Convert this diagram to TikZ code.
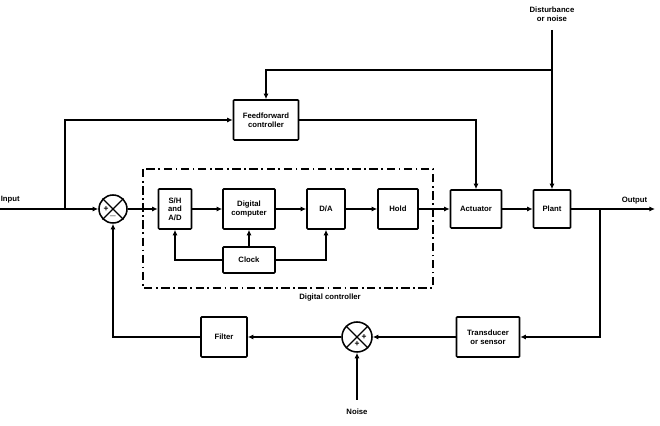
\documentclass[tikz,border=0pt]{standalone}
\usepackage{fontspec}
\setmainfont{Liberation Sans}
\usepackage{tikz}
\usetikzlibrary{arrows.meta, positioning, calc}

\begin{document}
\begin{tikzpicture}[
  x=0.25mm, y=-0.25mm,
  line width=1.1pt,
  >={Latex[length=4pt, width=3.6pt]},
  blk/.style={rectangle, draw, rounded corners=0.6pt, align=center, inner sep=1pt, font=\fontsize{5.5}{6.2}\selectfont\bfseries},
  sumj/.style={circle, draw, minimum size=7mm, inner sep=0pt},
  lbl/.style={font=\fontsize{5.5}{6.2}\selectfont\bfseries, align=center},
  sgn/.style={font=\fontsize{6}{6}\selectfont\bfseries, inner sep=0pt},
  ctrlbox/.style={line width=1.1pt, dash pattern=on 6pt off 2.5pt on 1.2pt off 2.5pt}
]
\useasboundingbox (0,0) rectangle (660,426);

% summing junctions
\node[sumj] (s1) at (113,209) {};
\node[sumj, minimum size=7.5mm] (s2) at (357,337) {};
\foreach \j in {s1,s2} {
  \draw[line width=1pt] (\j.45) -- (\j.225);
  \draw[line width=1pt] (\j.135) -- (\j.315);
}
\node[sgn] at ($(s1.center)+(-7,0)$) {+};
\node[sgn] at ($(s1.center)+(0,7)$) {$-$};
\node[sgn] at ($(s2.center)+(7,0)$) {+};
\node[sgn] at ($(s2.center)+(0,7)$) {+};

% digital controller blocks
\node[blk, minimum width=8.25mm, minimum height=10mm] (sh) at (175,209) {S/H\\and\\A/D};
\node[blk, minimum width=13mm, minimum height=10mm] (dc) at (249,209) {Digital\\computer};
\node[blk, minimum width=9.5mm, minimum height=10mm] (da) at (326,209) {D/A};
\node[blk, minimum width=10mm, minimum height=10mm] (hold) at (398,209) {Hold};
\node[blk, minimum width=13mm, minimum height=6.5mm] (clock) at (249,260) {Clock};

% plant side
\node[blk, minimum width=12.75mm, minimum height=9.5mm] (act) at (476,209) {Actuator};
\node[blk, minimum width=9.25mm, minimum height=9.5mm] (plant) at (552,209) {Plant};
\node[blk, minimum width=16.25mm, minimum height=10mm] (ff) at (266,120) {Feedforward\\controller};
\node[blk, minimum width=15.75mm, minimum height=10mm] (trans) at (488,337) {Transducer\\or sensor};
\node[blk, minimum width=11.5mm, minimum height=10mm] (filt) at (224,337) {Filter};

% free ends
\coordinate (in) at (0,209);
\coordinate (brk) at (65,209);
\coordinate (out) at (655,209);
\coordinate (tap) at (600,209);
\coordinate (dist) at (552,30);
\coordinate (dtap) at (552,70);
\coordinate (noise) at (357,400);

% digital controller frame
\draw[ctrlbox] (143,169) rectangle (433,288);
\node[lbl] (dctext) at (330,298) {Digital controller};

% labels
\node[lbl, anchor=west, inner sep=0pt] (intext) at (0,200) {Input};
\node[lbl, anchor=east, inner sep=0pt] (outtext) at (648,201) {Output};
\node[lbl, inner sep=0pt] (disttext) at (552,14) {Disturbance\\or noise};
\node[lbl, inner sep=0pt] (noisetext) at (357,412) {Noise};

% forward path
\draw[->] (in) -- (s1.west);
\draw[->] (s1.east) -- (sh.west);
\draw[->] (sh.east) -- (dc.west);
\draw[->] (dc.east) -- (da.west);
\draw[->] (da.east) -- (hold.west);
\draw[->] (hold.east) -- (act.west);
\draw[->] (act.east) -- (plant.west);
\draw[->] (plant.east) -- (out);

% clock lines
\draw[->] (clock.west) -| (sh.south);
\draw[->] (clock.east) -| (da.south);
\draw[->] (clock.north) -- (dc.south);

% feedforward
\draw[->] (brk) |- (ff.west);
\draw[->] (ff.east) -| (act.north);
\draw[->] (dist) -- (plant.north);
\draw[->] (dtap) -| (ff.north);

% feedback
\draw[->] (tap) |- (trans.east);
\draw[->] (trans.west) -- (s2.east);
\draw[->] (s2.west) -- (filt.east);
\draw[->] (filt.west) -| (s1.south);
\draw[->] (noise) -- (s2.south);

\end{tikzpicture}
\end{document}
